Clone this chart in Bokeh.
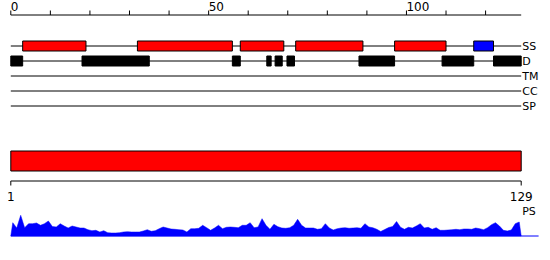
from bokeh.plotting import figure
from bokeh.models import Range1d, ColumnDataSource
from bokeh.core.properties import value
from bokeh.embed import file_html
from bokeh.resources import INLINE

# ---------------- data ----------------
seq_len = 129
axis_ticks = [0, 10, 20, 30, 40, 50, 60, 70, 80, 90, 100, 110, 120]
axis_labels = [0, 50, 100]

track_names = ["SS", "D", "TM", "CC", "SP"]

ss_starts = [3, 32, 58, 72, 97, 117]
ss_ends = [19, 56, 69, 89, 110, 122]
ss_colors = ["#FF0000", "#FF0000", "#FF0000", "#FF0000", "#FF0000", "#0000FF"]

d_starts = [0, 18, 56, 64.7, 66.8, 69.8, 88, 109, 122]
d_ends = [3, 35, 58, 65.8, 68.6, 71.7, 97, 117, 129]

domain_start = [1]
domain_end = [129]
seq_ticks = [1, 129]

ps_values = [
    13.3, 8.0, 20.7, 8.3, 12.3, 12.3, 13.0, 10.7, 12.3, 15.0,
    9.5, 9.0, 12.3, 10.0, 8.0, 10.0, 9.0, 8.0, 8.0, 6.3,
    5.3, 5.7, 4.0, 5.3, 3.3, 3.0, 3.0, 3.3, 4.0, 4.3,
    4.0, 4.0, 4.0, 5.0, 6.3, 4.7, 5.3, 7.3, 9.0, 8.0,
    7.0, 6.7, 6.3, 6.0, 4.0, 7.3, 7.3, 7.7, 10.7, 8.3,
    5.7, 8.0, 10.7, 7.3, 8.7, 9.0, 8.7, 8.3, 10.7, 10.7,
    13.3, 8.3, 9.0, 17.3, 10.7, 6.7, 11.7, 9.3, 8.0, 7.7,
    8.3, 10.7, 16.7, 10.7, 8.0, 8.0, 8.0, 6.7, 7.3, 12.3,
    8.0, 6.0, 7.3, 8.0, 8.3, 7.7, 8.0, 8.3, 7.7, 12.3,
    9.0, 8.3, 6.7, 4.5, 6.5, 8.5, 9.5, 14.5, 8.7, 6.7,
    8.7, 8.0, 10.0, 12.3, 8.0, 8.7, 6.7, 8.3, 5.7, 5.7,
    6.0, 6.3, 6.7, 6.3, 7.0, 7.0, 6.7, 8.0, 7.3, 6.3,
    8.3, 11.3, 13.3, 10.0, 5.7, 5.0, 6.0, 12.3, 14.0,
]

# ---------------- layout ----------------
W, H = 550, 260
left_px, right_px = 10.3, 520.7
sc = (right_px - left_px) / seq_len
x0 = -left_px / sc
sc2 = (right_px - left_px) / (seq_ticks[-1] - seq_ticks[0])
x0b = seq_ticks[0] - left_px / sc2

FONT = value("DejaVu Sans")
FS_NUM = "12px"
FS_LBL = "11px"

p = figure(width=W, height=H, x_range=Range1d(x0, x0 + W / sc),
           y_range=Range1d(H, 0), x_axis_type=None, y_axis_type=None,
           toolbar_location=None, output_backend="svg", min_border=0)
p.grid.visible = False
p.outline_line_color = None
p.background_fill_color = "white"

ps_base = 235.5
p.extra_x_ranges = {"seq": Range1d(x0b, x0b + W / sc2)}
p.extra_y_ranges = {"ps": Range1d(-(H - ps_base), ps_base)}

# top ruler
axis_y = 14.5
p.segment(x0=[0], x1=[seq_len], y0=[axis_y], y1=[axis_y], line_color="black", line_width=1)
p.segment(x0=axis_ticks, x1=axis_ticks, y0=[10] * len(axis_ticks), y1=[axis_y] * len(axis_ticks),
          line_color="black", line_width=1)
p.text(x=axis_labels, y=[6] * len(axis_labels), text=[str(v) for v in axis_labels],
       text_font=FONT, text_font_size=FS_NUM, text_align="left", text_baseline="middle",
       text_color="black")

# tracks
track_y = [45.5, 60.5, 75.5, 90.5, 105.5]
n = len(track_names)
p.segment(x0=[0] * n, x1=[seq_len] * n, y0=track_y, y1=track_y, line_color="black", line_width=1)
p.text(x=[seq_len] * n, y=track_y, text=track_names, x_offset=1,
       text_font=FONT, text_font_size=FS_LBL, text_align="left", text_baseline="middle",
       text_color="black")

ss_src = ColumnDataSource(dict(left=ss_starts, right=ss_ends, color=ss_colors))
p.quad(left="left", right="right", top=40.5, bottom=50.5, fill_color="color",
       line_color="black", line_width=1, source=ss_src)
p.quad(left=d_starts, right=d_ends, top=55.5, bottom=65.5, fill_color="black",
       line_color="black", line_width=1)

# domain bar
p.quad(left=domain_start, right=domain_end, top=150.5, bottom=170.5, fill_color="#FF0000",
       line_color="black", line_width=1, x_range_name="seq")
bax = 180.5
p.segment(x0=[seq_ticks[0]], x1=[seq_ticks[-1]], y0=[bax], y1=[bax], line_color="black",
          line_width=1, x_range_name="seq")
p.segment(x0=seq_ticks, x1=seq_ticks, y0=[bax] * 2, y1=[185] * 2, line_color="black",
          line_width=1, x_range_name="seq")
p.text(x=seq_ticks, y=[195.5] * 2, text=[str(v) for v in seq_ticks], text_font=FONT,
       text_font_size=FS_NUM, text_align="center", text_baseline="middle",
       text_color="black", x_range_name="seq")

# PS profile
xs = [0] + [i + 0.5 for i in range(len(ps_values))] + [seq_len]
ys = [0] + ps_values + [0]
p.patch(x=xs, y=ys, fill_color="#0000FF", line_color="#0000FF", line_width=0.5,
        y_range_name="ps")
p.segment(x0=[0], x1=[seq_len + 4.4], y0=[0], y1=[0], line_color="#0000FF", line_width=1,
          y_range_name="ps")
p.text(x=[seq_ticks[-1]], y=[210.5], text=["PS"], x_offset=1, text_font=FONT,
       text_font_size=FS_LBL, text_align="left", text_baseline="middle",
       text_color="black", x_range_name="seq")

open("out.html", "w").write(file_html(p, INLINE))
